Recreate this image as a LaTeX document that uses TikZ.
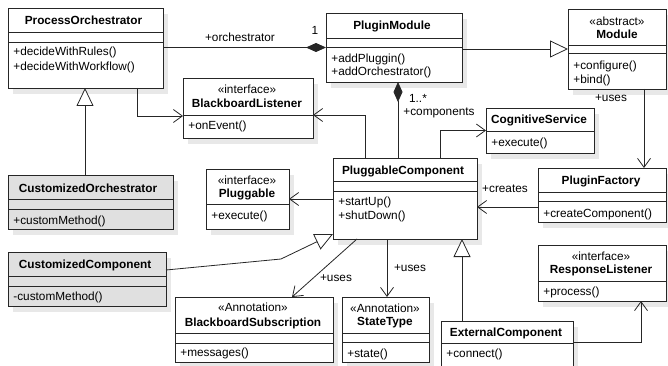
\documentclass[tikz,border=0pt]{standalone}
\usepackage{fontspec}
\setmainfont{Liberation Sans}
\usetikzlibrary{arrows.meta,shadows}

\tikzset{
  cls/.style={draw=black!85, fill=white, anchor=north west, inner sep=0pt, outer sep=0pt,
    drop shadow={shadow xshift=5pt, shadow yshift=-6pt, fill=black!9, opacity=1}},
  clsg/.style={cls, fill=black!12},
  cname/.style={font=\fontsize{11.8}{14}\selectfont\bfseries, inner sep=0pt},
  stereo/.style={inner sep=0pt},
  meth/.style={anchor=west, inner sep=0pt},
  lbl/.style={inner sep=0pt},
  sep/.style={draw=black!85},
  uses/.style={draw=black!85, -{Straight Barb[length=9pt,width=13pt]}},
  inherit/.style={draw=black!85, -{Triangle[open,length=18pt,width=17pt,fill=white]}},
  compo/.style={draw=black!85, -{Diamond[length=20pt,width=9pt]}}
}

\begin{document}
\begin{tikzpicture}[x=1pt,y=-1pt,line width=0.8pt,font=\fontsize{11.8}{14}\selectfont]
\useasboundingbox (0,0) rectangle (668,366);

% classes
\node[cls, minimum width=155, minimum height=80] (po) at (8,8) {};
\node[cname] (po-n) at (83.5,20) {ProcessOrchestrator};
\foreach \y in {32,42} \draw[sep] (po.west |- 0,\y) -- (po.east |- 0,\y);
\node[meth] (po-m1) at (13,52) {+decideWithRules()};
\node[meth] (po-m2) at (13,67) {+decideWithWorkflow()};

\node[cls, minimum width=136, minimum height=69] (pm) at (326,13) {};
\node[cname] (pm-n) at (392,26) {PluginModule};
\foreach \y in {38,47} \draw[sep] (pm.west |- 0,\y) -- (pm.east |- 0,\y);
\node[meth] (pm-m1) at (331,59) {+addPluggin()};
\node[meth] (pm-m2) at (331,72) {+addOrchestrator()};

\node[cls, minimum width=98, minimum height=80] (mod) at (568,9) {};
\node[stereo] (mod-s) at (617,21) {«abstract»};
\node[cname] (mod-n) at (617,34) {Module};
\foreach \y in {45,53} \draw[sep] (mod.west |- 0,\y) -- (mod.east |- 0,\y);
\node[meth] (mod-m1) at (573,66) {+configure()};
\node[meth] (mod-m2) at (573,80) {+bind()};

\node[cls, minimum width=130, minimum height=60] (bl) at (183,78) {};
\node[stereo] (bl-s) at (247,89) {«interface»};
\node[cname] (bl-n) at (247,103) {BlackboardListener};
\draw[sep] (bl.west |- 0,115) -- (bl.east |- 0,115);
\node[meth] (bl-m1) at (188,126) {+onEvent()};

\node[cls, minimum width=108, minimum height=45] (cs) at (486,108) {};
\node[cname] (cs-n) at (539,120) {CognitiveService};
\draw[sep] (cs.west |- 0,131) -- (cs.east |- 0,131);
\node[meth] (cs-m1) at (491,143) {+execute()};

\node[cls, minimum width=144, minimum height=81] (pc) at (333,158) {};
\node[cname] (pc-n) at (403,171) {PluggableComponent};
\foreach \y in {181,191} \draw[sep] (pc.west |- 0,\y) -- (pc.east |- 0,\y);
\node[meth] (pc-m1) at (338,202) {+startUp()};
\node[meth] (pc-m2) at (338,216) {+shutDown()};

\node[cls, minimum width=83, minimum height=60] (pl) at (206,169) {};
\node[stereo] (pl-s) at (247,180) {«interface»};
\node[cname] (pl-n) at (247,194) {Pluggable};
\draw[sep] (pl.west |- 0,204) -- (pl.east |- 0,204);
\node[meth] (pl-m1) at (211,216) {+execute()};

\node[cls, minimum width=128, minimum height=54] (pf) at (538,168) {};
\node[cname] (pf-n) at (601,181) {PluginFactory};
\foreach \y in {192,201} \draw[sep] (pf.west |- 0,\y) -- (pf.east |- 0,\y);
\node[meth] (pf-m1) at (543,214) {+createComponent()};

\node[clsg, minimum width=165, minimum height=54] (co) at (8,175) {};
\node[cname] (co-n) at (88,188) {CustomizedOrchestrator};
\foreach \y in {199,209} \draw[sep] (co.west |- 0,\y) -- (co.east |- 0,\y);
\node[meth] (co-m1) at (13,221) {+customMethod()};

\node[clsg, minimum width=158, minimum height=54] (cc) at (8,252) {};
\node[cname] (cc-n) at (85,265) {CustomizedComponent};
\foreach \y in {276,286} \draw[sep] (cc.west |- 0,\y) -- (cc.east |- 0,\y);
\node[meth] (cc-m1) at (13,297) {-customMethod()};

\node[cls, minimum width=158, minimum height=65] (bs) at (175,297) {};
\node[stereo] (bs-s) at (253,307) {«Annotation»};
\node[cname] (bs-n) at (253,323) {BlackboardSubscription};
\foreach \y in {333,343} \draw[sep] (bs.west |- 0,\y) -- (bs.east |- 0,\y);
\node[meth] (bs-m1) at (180,353) {+messages()};

\node[cls, minimum width=87, minimum height=65] (st) at (342,297) {};
\node[stereo] (st-s) at (385,308) {«Annotation»};
\node[cname] (st-n) at (385,323) {StateType};
\foreach \y in {333,342} \draw[sep] (st.west |- 0,\y) -- (st.east |- 0,\y);
\node[meth] (st-m1) at (347,354) {+state()};

\node[cls, minimum width=132, minimum height=48] (ec) at (441,321) {};
\node[cname] (ec-n) at (506,333) {ExternalComponent};
\draw[sep] (ec.west |- 0,343) -- (ec.east |- 0,343);
\node[meth] (ec-m1) at (446,354) {+connect()};

\node[cls, minimum width=128, minimum height=56] (rl) at (538,245) {};
\node[stereo] (rl-s) at (601,256) {«interface»};
\node[cname] (rl-n) at (601,270) {ResponseListener};
\draw[sep] (rl.west |- 0,281) -- (rl.east |- 0,281);
\node[meth] (rl-m1) at (543,292) {+process()};

% connectors
\draw[compo] (po.east |- pm.west) -- (pm.west);
\node[lbl] (l-orch) at (240,37) {+orchestrator};
\node[lbl] (l-one) at (315,30) {1};
\draw[inherit] (pm.east |- mod.west) -- (mod.west);
\draw[uses] (137,0 |- po.south) |- (bl.west |- 0,116);
\draw[uses] (365,0 |- pc.north) |- (bl.east |- 0,115);
\draw[compo] (398,0 |- pc.north) -- (398,0 |- pm.south);
\node[lbl] (l-mult) at (418,98) {1..*};
\node[lbl] (l-comp) at (439,113) {+components};
\draw[uses] (440,0 |- pc.north) |- (cs.west);
\draw[uses] (644,0 |- mod.south) -- (644,0 |- pf.north);
\node[lbl] (l-uses1) at (611,98) {+uses};
\draw[uses] (pf.west |- 0,207) -- (pc.east |- 0,207);
\node[lbl] (l-creates) at (505,189) {+creates};
\draw[uses] (pc.west |- pl.east) -- (pl.east);
\draw[inherit] (85,0 |- co.north) -- (85,0 |- po.south);
\coordinate (ccbend) at (281,259);
\draw[inherit] (cc.east |- 0,270) -- (ccbend) -- (pc.west |- 0,234);
\draw[uses] (357,0 |- pc.south) -- (292,0 |- bs.north);
\node[lbl] (l-uses2) at (336,278) {+uses};
\draw[uses] (387,0 |- pc.south) -- (387,0 |- st.north);
\node[lbl] (l-uses3) at (410,268) {+uses};
\draw[inherit] (462,0 |- ec.north) -- (462,0 |- pc.south);
\draw[uses] (ec.east |- 0,342) -| (641,0 |- rl.south);
\end{tikzpicture}
\end{document}
